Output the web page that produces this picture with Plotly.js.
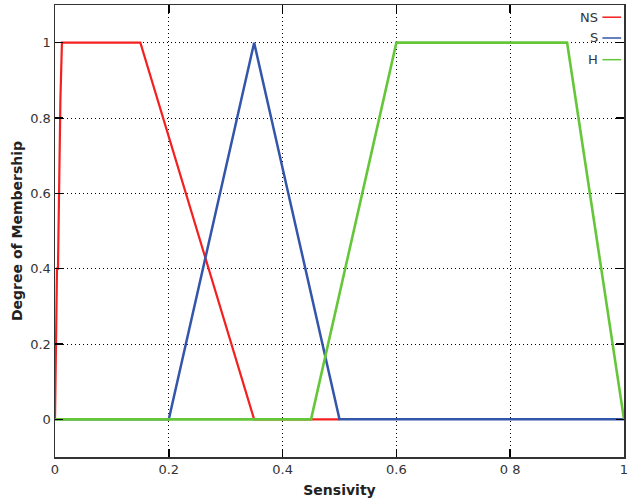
<!DOCTYPE html>
<html>
<head>
<meta charset="utf-8">
<script src="https://cdn.plot.ly/plotly-3.0.1.min.js"></script>
<style>html,body{margin:0;padding:0;background:#fff;}#chart{width:629px;height:500px;}</style>
</head>
<body>
<div id="chart"></div>
<script>
// Membership functions (Sensivity)
const nsX = [0, 0.0017, 0.0035, 0.0052, 0.007, 0.0095, 0.0122, 0.15, 0.35, 0.5];
const nsY = [0, 0.17, 0.40, 0.40, 0.62, 0.85, 1, 1, 0, 0];
const sX = [0, 0.2, 0.35, 0.5, 1];
const sY = [0, 0, 1, 0, 0];
const hX = [0, 0.45, 0.6, 0.9, 1];
const hY = [0, 0, 1, 1, 0];

const seriesNames = ['NS', 'S', 'H'];
const seriesColors = ['#f42020', '#3355aa', '#66c63a'];

const xTickVals = [0, 0.2, 0.4, 0.6, 0.8, 1];
const xTickText = ['0', '0.2', '0.4', '0.6', '0 8', '1'];
const yTickVals = [0, 0.2, 0.4, 0.6, 0.8, 1];
const yTickText = ['0', '0.2', '0.4', '0.6', '0.8', '1'];

const xs = [nsX, sX, hX];
const ys = [nsY, sY, hY];
const widths = [2.2, 2.5, 2.6];

const traces = xs.map((x, i) => ({
  x: x, y: ys[i], type: 'scatter', mode: 'lines', name: seriesNames[i],
  line: {color: seriesColors[i], width: widths[i]}, showlegend: false, hoverinfo: 'skip'
}));

const font = {family: 'DejaVu Sans, Verdana, sans-serif', size: 13, color: '#333'};

// legend drawn as text with line sample on its right
const legY = [0.973, 0.927, 0.879];
const annotations = seriesNames.map((n, i) => ({
  xref: 'paper', yref: 'paper', x: 0.958, y: legY[i], xanchor: 'right', yanchor: 'middle',
  text: n, showarrow: false, font: {family: font.family, size: 13, color: '#333'}
}));
const shapes = seriesNames.map((n, i) => ({
  type: 'line', xref: 'paper', yref: 'paper', x0: 0.962, x1: 0.995, y0: legY[i], y1: legY[i],
  line: {color: seriesColors[i], width: 1.5}
}));

const layout = {
  width: 629, height: 500,
  margin: {l: 55, r: 5, t: 5, b: 43},
  paper_bgcolor: '#fff', plot_bgcolor: '#fff',
  font: font,
  showlegend: false,
  xaxis: {
    range: [0, 1], tickvals: xTickVals, ticktext: xTickText,
    ticks: 'inside', ticklen: 8, tickcolor: '#000', tickwidth: 1.5,
    showline: true, linecolor: '#333', linewidth: 1.5, mirror: 'ticks',
    showgrid: true, gridcolor: '#000', gridwidth: 1, griddash: '1px,3px',
    zeroline: false, ticklabeloverflow: 'allow',
    title: {text: '<b>Sensivity</b>', font: {family: font.family, size: 14, color: '#222'}, standoff: 9},
    automargin: false
  },
  yaxis: {
    range: [-0.1, 1.1], tickvals: yTickVals, ticktext: yTickText,
    ticks: 'inside', ticklen: 8, tickcolor: '#000', tickwidth: 1.5,
    showline: true, linecolor: '#333', linewidth: 1.5, mirror: 'ticks',
    showgrid: true, gridcolor: '#000', gridwidth: 1, griddash: '1px,3px',
    zeroline: false,
    title: {text: '<b>Degree of Membership</b>', font: {family: font.family, size: 14, color: '#222'}, standoff: 4},
    automargin: false
  },
  annotations: annotations,
  shapes: shapes
};

Plotly.newPlot('chart', traces, layout, {displayModeBar: false, staticPlot: true});
</script>
</body>
</html>
